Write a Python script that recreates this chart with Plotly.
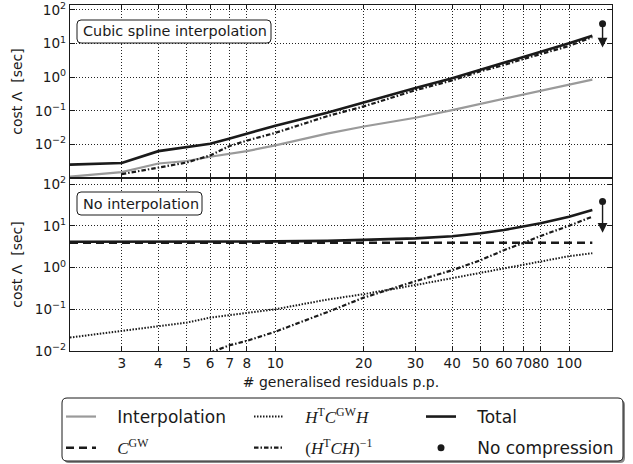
import math
import plotly.graph_objects as go

# ---------------- data ----------------
x_vals = [2, 3, 4, 5, 6, 7, 8, 10, 15, 20, 30, 40, 50, 60, 70, 80, 100, 120]

# top panel: cubic spline interpolation
top_interpolation = [0.0011, 0.0015, 0.0027, 0.0032, 0.0043, 0.0052, 0.0063, 0.0094, 0.021,
                     0.034, 0.062, 0.105, 0.16, 0.23, 0.30, 0.38, 0.59, 0.85]
top_total = [0.0025, 0.0028, 0.0063, 0.0085, 0.0105, 0.015, 0.021, 0.036, 0.088,
             0.18, 0.48, 0.93, 1.65, 2.7, 4.0, 5.7, 10.2, 17.0]
x_top_inv = [3, 4, 5, 6, 7, 8, 10, 15, 20, 30, 40, 50, 60, 70, 80, 100, 120]
top_inv = [0.0013, 0.0021, 0.0029, 0.0047, 0.009, 0.013, 0.022, 0.069, 0.135,
           0.41, 0.8, 1.5, 2.3, 3.5, 4.9, 8.5, 15.5]

# bottom panel: no interpolation
bot_cgw = [3.9, 3.9, 3.9, 3.9, 3.9, 3.9, 3.9, 3.9, 3.9, 3.9, 3.9, 3.9, 3.9, 3.9, 3.9, 3.9, 3.9, 3.9]
bot_htcgwh = [0.021, 0.03, 0.039, 0.048, 0.063, 0.073, 0.083, 0.1, 0.17, 0.23, 0.38, 0.56,
              0.74, 0.95, 1.15, 1.4, 1.87, 2.2]
bot_total = [4.15, 4.15, 4.16, 4.17, 4.18, 4.19, 4.2, 4.22, 4.35, 4.6, 5.0, 5.6, 6.6, 7.9,
             9.5, 11.5, 16.5, 24.0]
x_bot_inv = [6, 7, 8, 10, 15, 20, 30, 40, 50, 60, 70, 80, 100, 120]
bot_inv = [0.0091, 0.0138, 0.0175, 0.029, 0.085, 0.19, 0.47, 0.86, 1.5, 2.6, 3.9, 5.7, 10.0, 16.5]

# no compression points and arrow tips
nocomp_x = [130]
nocomp_top = [39]
nocomp_bot = [38]
arrow_tip_top = 7.6
arrow_tip_bot = 6.8

x_tickvals = [3, 4, 5, 6, 7, 8, 10, 20, 30, 40, 50, 60, 70, 80, 100]
x_ticktext = ["3", "4", "5", "6", "7", "8", "10", "20", "30", "40", "50", "60", "70", "80", "100"]
y_tickvals = [1e-2, 1e-1, 1e0, 1e1, 1e2]
y_ticktext = ["10<sup>\u22122</sup>", "10<sup>\u22121</sup>", "10<sup>0</sup>",
              "10<sup>1</sup>", "10<sup>2</sup>"]

# ---------------- styles ----------------
BLACK = "#1a1a1a"
GRAY = "#9a9a9a"
SERIF = "font-family:Liberation Serif"
NB = "&nbsp;&nbsp;&nbsp;"
lab_interp = NB + "Interpolation"
lab_cgw = NB + f'<span style="{SERIF}"><i>C</i><sup>GW</sup></span>'
lab_htcgwh = NB + f'<span style="{SERIF}"><i>H</i><sup>T</sup><i>C</i><sup>GW</sup><i>H</i></span>'
lab_inv = NB + f'<span style="{SERIF}">(<i>H</i><sup>T</sup><i>CH</i>)<sup>\u22121</sup></span>'
lab_total = NB + "Total"
lab_nocomp = NB + "No compression"

DASH = "8px,5px"
DOT = "1.5px,1.5px"
DASHDOT = "4.5px,2px,1.5px,2px"

fig = go.Figure()

# top panel traces
fig.add_trace(go.Scatter(x=x_vals, y=top_interpolation, mode="lines", name=lab_interp,
                         line=dict(color=GRAY, width=2.2), xaxis="x", yaxis="y",
                         legend="legend", legendgroup="a"))
fig.add_trace(go.Scatter(x=x_top_inv, y=top_inv, mode="lines", name=lab_inv,
                         line=dict(color=BLACK, width=2.2, dash=DASHDOT), xaxis="x", yaxis="y",
                         legend="legend2", legendgroup="d", showlegend=False))
fig.add_trace(go.Scatter(x=x_vals, y=top_total, mode="lines", name=lab_total,
                         line=dict(color=BLACK, width=2.6), xaxis="x", yaxis="y",
                         legend="legend3", legendgroup="e", showlegend=False))

# bottom panel traces
fig.add_trace(go.Scatter(x=x_vals, y=bot_cgw, mode="lines", name=lab_cgw,
                         line=dict(color=BLACK, width=2.5, dash=DASH), xaxis="x2", yaxis="y2",
                         legend="legend", legendgroup="b"))
fig.add_trace(go.Scatter(x=x_vals, y=bot_htcgwh, mode="lines", name=lab_htcgwh,
                         line=dict(color=BLACK, width=2.0, dash=DOT), xaxis="x2", yaxis="y2",
                         legend="legend2", legendgroup="c"))
fig.add_trace(go.Scatter(x=x_bot_inv, y=bot_inv, mode="lines", name=lab_inv,
                         line=dict(color=BLACK, width=2.2, dash=DASHDOT), xaxis="x2", yaxis="y2",
                         legend="legend2", legendgroup="d"))
fig.add_trace(go.Scatter(x=x_vals, y=bot_total, mode="lines", name=lab_total,
                         line=dict(color=BLACK, width=2.6), xaxis="x2", yaxis="y2",
                         legend="legend3", legendgroup="e"))

# no compression markers
fig.add_trace(go.Scatter(x=nocomp_x, y=nocomp_bot, mode="markers", name=lab_nocomp,
                         marker=dict(color=BLACK, size=7), xaxis="x2", yaxis="y2",
                         legend="legend3", legendgroup="f"))
fig.add_trace(go.Scatter(x=nocomp_x, y=nocomp_top, mode="markers", name=lab_nocomp,
                         marker=dict(color=BLACK, size=7), xaxis="x", yaxis="y",
                         legend="legend3", legendgroup="f", showlegend=False))

# arrows
for yref, ytail, ytip in (("y", nocomp_top[0], arrow_tip_top), ("y2", nocomp_bot[0], arrow_tip_bot)):
    xr = "x" if yref == "y" else "x2"
    fig.add_annotation(x=math.log10(nocomp_x[0]), y=math.log10(ytip),
                       ax=math.log10(nocomp_x[0]), ay=math.log10(ytail),
                       xref=xr, yref=yref, axref=xr, ayref=yref, text="",
                       showarrow=True, arrowhead=2, arrowsize=1.4, arrowwidth=1.4,
                       arrowcolor=BLACK)

# ---------------- axes ----------------
PW, PH = 542.0, 346.0
L, T, B = 70, 5, 113


def px_x(p):
    return (p - L) / PW


def px_y(p):
    return (464 - B - p) / PH


common_x = dict(type="log", range=[math.log10(2), math.log10(140)], tickvals=x_tickvals,
                ticktext=x_ticktext, tickangle=0, showgrid=True, gridcolor="#222222",
                gridwidth=0.9, griddash="1px,2px", showline=True, linecolor=BLACK, linewidth=1.3,
                mirror="ticks", ticks="inside", ticklen=4, tickcolor=BLACK,
                tickfont=dict(size=13.6), zeroline=False)
common_y = dict(type="log", tickvals=y_tickvals, ticktext=y_ticktext, showgrid=True,
                gridcolor="#222222", gridwidth=0.9, griddash="1px,2px", showline=True,
                linecolor=BLACK, linewidth=1.3, mirror="ticks", ticks="inside", ticklen=5,
                tickcolor=BLACK, tickfont=dict(size=13.6), zeroline=False,
                title=dict(text="cost \u039b&nbsp; [sec]", font=dict(size=14), standoff=8))

fig.update_layout(
    width=633, height=464,
    margin=dict(l=L, r=21, t=T, b=B, autoexpand=False),
    paper_bgcolor="white", plot_bgcolor="white",
    font=dict(family="DejaVu Sans", color=BLACK),
    xaxis=dict(common_x, domain=[0, 1], anchor="y", showticklabels=False, matches="x2"),
    yaxis=dict(common_y, domain=[0.5, 1], anchor="x", range=[-3, 2.148]),
    xaxis2=dict(common_x, domain=[0, 1], anchor="y2",
                title=dict(text="# generalised residuals p.p.", font=dict(size=14), standoff=6)),
    yaxis2=dict(common_y, domain=[0, 0.5], anchor="x2", range=[-2, 2.144]),
)

leg_common = dict(orientation="v", xanchor="left", yanchor="top", bgcolor="rgba(0,0,0,0)",
                  borderwidth=0, font=dict(size=17, family="DejaVu Sans"), tracegroupgap=6,
                  y=px_y(399))
fig.update_layout(
    legend=dict(leg_common, x=px_x(61)),
    legend2=dict(leg_common, x=px_x(249)),
    legend3=dict(leg_common, x=px_x(421)),
)


def rounded_rect(x0p, y0p, x1p, y1p, r):
    x0, x1 = px_x(x0p), px_x(x1p)
    y0, y1 = px_y(y1p), px_y(y0p)
    rx, ry = r / PW, r / PH
    return (f"M {x0+rx},{y0} L {x1-rx},{y0} Q {x1},{y0} {x1},{y0+ry} "
            f"L {x1},{y1-ry} Q {x1},{y1} {x1-rx},{y1} L {x0+rx},{y1} Q {x0},{y1} {x0},{y1-ry} "
            f"L {x0},{y0+ry} Q {x0},{y0} {x0+rx},{y0} Z")


shapes = [
    dict(type="path", xref="paper", yref="paper", path=rounded_rect(64, 400, 625, 463, 5),
         fillcolor="#8a8a8a", line=dict(width=0), layer="above"),
    dict(type="path", xref="paper", yref="paper", path=rounded_rect(62, 398, 623, 461, 5),
         fillcolor="white", line=dict(color=BLACK, width=1), layer="above"),
    dict(type="path", xref="paper", yref="paper", path=rounded_rect(77, 20, 271, 43, 4),
         fillcolor="white", line=dict(color=BLACK, width=1), layer="above"),
    dict(type="path", xref="paper", yref="paper", path=rounded_rect(77, 192, 202, 215, 4),
         fillcolor="white", line=dict(color=BLACK, width=1), layer="above"),
]
fig.update_layout(shapes=shapes)

fig.add_annotation(x=px_x(174.5), y=px_y(31.5), xref="paper", yref="paper",
                   xanchor="center", yanchor="middle",
                   text="Cubic spline interpolation", showarrow=False,
                   font=dict(size=14.4, family="DejaVu Sans", color=BLACK))
fig.add_annotation(x=px_x(140.5), y=px_y(203.5), xref="paper", yref="paper",
                   xanchor="center", yanchor="middle",
                   text="No interpolation", showarrow=False,
                   font=dict(size=14.4, family="DejaVu Sans", color=BLACK))

fig.write_html("out.html")
